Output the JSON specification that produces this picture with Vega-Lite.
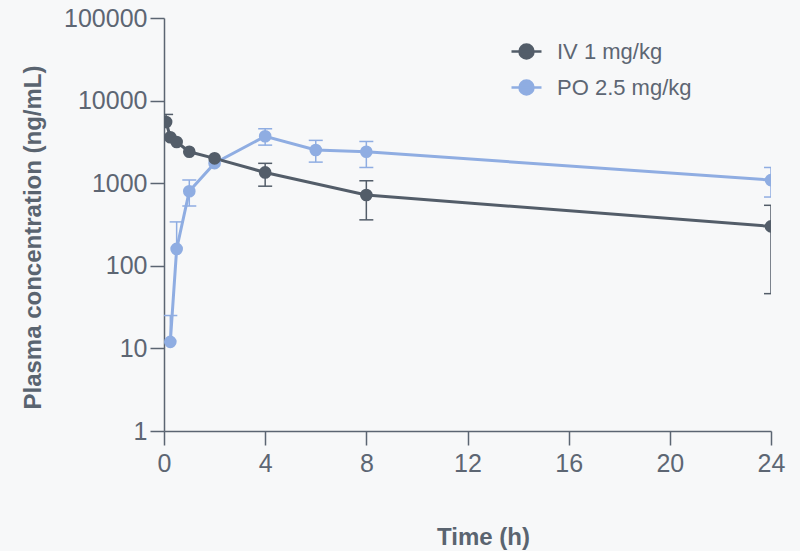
{
  "$schema": "https://vega.github.io/schema/vega-lite/v6.json",
  "width": 607,
  "height": 413,
  "autosize": {"type": "none"},
  "padding": {"left": 164, "top": 18, "right": 29, "bottom": 120},
  "background": "#f7f8f9",
  "config": {"view": {"stroke": null}, "font": "Liberation Sans"},
  "data": {
    "values": [
      {"group": "PO 2.5 mg/kg", "time": 0.25, "mean": 12, "lo": 12, "hi": 25},
      {"group": "PO 2.5 mg/kg", "time": 0.5, "mean": 160, "lo": 160, "hi": 340},
      {"group": "PO 2.5 mg/kg", "time": 1, "mean": 800, "lo": 530, "hi": 1090},
      {"group": "PO 2.5 mg/kg", "time": 2, "mean": 1750, "lo": 1750, "hi": 1750},
      {"group": "PO 2.5 mg/kg", "time": 4, "mean": 3700, "lo": 2890, "hi": 4560},
      {"group": "PO 2.5 mg/kg", "time": 6, "mean": 2520, "lo": 1800, "hi": 3300},
      {"group": "PO 2.5 mg/kg", "time": 8, "mean": 2400, "lo": 1550, "hi": 3200},
      {"group": "PO 2.5 mg/kg", "time": 24, "mean": 1090, "lo": 680, "hi": 1550},
      {"group": "IV 1 mg/kg", "time": 0.083, "mean": 5500, "lo": 5500, "hi": 6800},
      {"group": "IV 1 mg/kg", "time": 0.25, "mean": 3600, "lo": 3600, "hi": 3600},
      {"group": "IV 1 mg/kg", "time": 0.5, "mean": 3150, "lo": 3150, "hi": 3150},
      {"group": "IV 1 mg/kg", "time": 1, "mean": 2400, "lo": 2400, "hi": 2400},
      {"group": "IV 1 mg/kg", "time": 2, "mean": 2000, "lo": 2000, "hi": 2000},
      {"group": "IV 1 mg/kg", "time": 4, "mean": 1350, "lo": 920, "hi": 1740},
      {"group": "IV 1 mg/kg", "time": 8, "mean": 720, "lo": 360, "hi": 1070},
      {"group": "IV 1 mg/kg", "time": 24, "mean": 300, "lo": 46, "hi": 540}
    ]
  },
  "encoding": {
    "x": {
      "field": "time",
      "type": "quantitative",
      "scale": {"domain": [0, 24], "nice": false, "zero": false},
      "axis": {
        "values": [0, 4, 8, 12, 16, 20, 24],
        "grid": false,
        "labelFlush": false,
        "title": "Time (h)",
        "titleFontSize": 24,
        "titleFontWeight": "bold",
        "titleColor": "#5a6470",
        "titleX": 319,
        "titleY": 106,
        "titleBaseline": "middle",
        "labelFontSize": 25,
        "labelColor": "#5d6673",
        "labelPadding": 6,
        "tickSize": 14,
        "tickWidth": 1.5,
        "tickColor": "#5b6572",
        "domainColor": "#5b6572",
        "domainWidth": 1.5
      }
    },
    "color": {
      "field": "group",
      "type": "nominal",
      "scale": {"domain": ["IV 1 mg/kg", "PO 2.5 mg/kg"], "range": ["#535d69", "#8fade2"]},
      "legend": {
        "title": null,
        "orient": "none",
        "legendX": 346,
        "legendY": 17,
        "padding": 0,
        "symbolType": "M-1,0H1M-0.467,0A0.467,0.467,0,1,0,0.467,0A0.467,0.467,0,1,0,-0.467,0Z",
        "symbolSize": 900,
        "symbolStrokeWidth": 2.5,
        "labelFontSize": 22,
        "labelColor": "#5d6673",
        "labelOffset": 14,
        "rowPadding": 7,
        "encode": {
          "symbols": {
            "update": {
              "fill": {"scale": "color", "field": "value"},
              "stroke": {"scale": "color", "field": "value"},
              "opacity": {"value": 1},
              "fillOpacity": {"value": 1}
            }
          }
        }
      }
    }
  },
  "layer": [
    {
      "mark": {"type": "rule", "strokeWidth": 1.5, "clip": true},
      "encoding": {
        "y": {
          "field": "hi",
          "type": "quantitative",
          "scale": {"type": "log", "domain": [1, 100000], "nice": false},
          "title": "Plasma concentration (ng/mL)",
          "axis": {
            "values": [1, 10, 100, 1000, 10000, 100000],
            "format": "d",
            "grid": false,
            "labelFlush": false,
            "titleFontSize": 24,
            "titleFontWeight": "bold",
            "titleColor": "#5a6470",
            "titleAngle": -90,
            "titleX": -131,
            "titleY": 219,
            "titleAlign": "center",
            "titleBaseline": "middle",
            "labelFontSize": 25,
            "labelColor": "#5d6673",
            "labelPadding": 3,
            "tickSize": 14,
            "tickWidth": 1.5,
            "tickColor": "#5b6572",
            "domainColor": "#5b6572",
            "domainWidth": 1.5
          }
        },
        "y2": {"field": "lo"}
      }
    },
    {
      "transform": [{"filter": "datum.hi > datum.mean"}],
      "mark": {"type": "tick", "orient": "horizontal", "size": 14, "thickness": 1.5, "opacity": 1, "clip": true},
      "encoding": {
        "y": {"field": "hi", "type": "quantitative", "scale": {"type": "log", "domain": [1, 100000], "nice": false}, "title": "Plasma concentration (ng/mL)"}
      }
    },
    {
      "transform": [{"filter": "datum.lo < datum.mean"}],
      "mark": {"type": "tick", "orient": "horizontal", "size": 14, "thickness": 1.5, "opacity": 1, "clip": true},
      "encoding": {
        "y": {"field": "lo", "type": "quantitative", "scale": {"type": "log", "domain": [1, 100000], "nice": false}, "title": "Plasma concentration (ng/mL)"}
      }
    },
    {
      "mark": {"type": "line", "strokeWidth": 3, "clip": true},
      "encoding": {
        "y": {"field": "mean", "type": "quantitative", "scale": {"type": "log", "domain": [1, 100000], "nice": false}, "title": "Plasma concentration (ng/mL)"}
      }
    },
    {
      "mark": {"type": "point", "filled": true, "size": 160, "opacity": 1, "clip": true},
      "encoding": {
        "y": {"field": "mean", "type": "quantitative", "scale": {"type": "log", "domain": [1, 100000], "nice": false}, "title": "Plasma concentration (ng/mL)"}
      }
    }
  ]
}
